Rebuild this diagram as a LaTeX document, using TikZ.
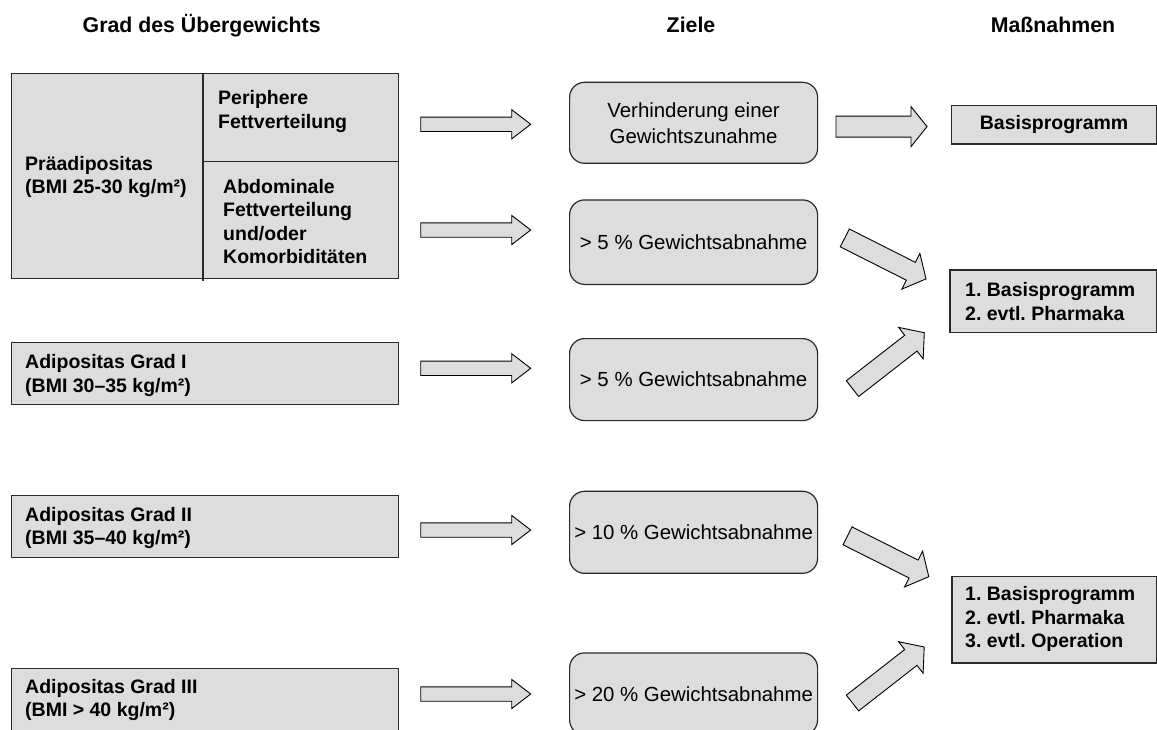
\documentclass[tikz,border=0pt]{standalone}
\usepackage{fontspec}
\setmainfont{Liberation Sans}
\frenchspacing
\definecolor{boxgray}{HTML}{DDDDDD}
\definecolor{edge}{HTML}{2A2A2A}
\newcommand{\barrow}[6]{%
  \draw[arrowshape, shift={(#1)}, rotate=#2]
    (0,-#4) -- (#3-#6,-#4) -- (#3-#6,-#5) -- (#3,0) -- (#3-#6,#5) -- (#3-#6,#4) -- (0,#4) -- cycle;}
\begin{document}
\begin{tikzpicture}[x=1pt,y=1pt,
  box/.style={draw=edge, line width=1.2pt, fill=boxgray, inner sep=0pt, anchor=north west},
  rbox/.style={draw=edge, line width=1.2pt, fill=boxgray, rounded corners=15pt, inner sep=0pt,
     anchor=north west, align=center, font=\fontsize{20.4}{26}\selectfont},
  btxt/.style={inner sep=0pt, anchor=west, align=left, font=\fontsize{19.5}{23.5}\selectfont\bfseries},
  head/.style={inner sep=0pt, anchor=base, font=\fontsize{21.3}{25}\selectfont\bfseries},
  arrowshape/.style={draw=black, line width=0.9pt, fill=boxgray, line join=miter}]
\clip (0,0) rectangle (1157,-729);
\fill[white] (0,0) rectangle (1157,-729);

% headers
\node[head] (h1) at (201.7,-32.3) {Grad des Übergewichts};
\node[head] (h2) at (691,-32.3) {Ziele};
\node[head] (h3) at (1053,-32.3) {Maßnahmen};

% left column
\node[box, minimum width=387, minimum height=205] (pre) at (11,-73) {};
\draw[edge, line width=1.2pt] (203,-73) -- (203,-281);
\draw[edge, line width=1.2pt] (203,-161.7) -- (pre.east |- 0,-161.7);
\node[btxt] (pret) at (25,-177.2) {Präadipositas\\(BMI 25-30 kg/m²)};
\node[btxt] (perit) at (218,-111.7) {Periphere\\Fettverteilung};
\node[btxt] (abdt) at (223,-221.7) {Abdominale\\Fettverteilung\\und/oder\\Komorbiditäten};

\node[box, minimum width=387, minimum height=62] (g1) at (11,-342) {};
\node[btxt] (g1t) at (25,-375.3) {Adipositas Grad I\\(BMI 30–35 kg/m²)};
\node[box, minimum width=387, minimum height=62] (g2) at (11,-495) {};
\node[btxt] (g2t) at (25,-528) {Adipositas Grad II\\(BMI 35–40 kg/m²)};
\node[box, minimum width=387, minimum height=90] (g3) at (11,-668) {};
\node[btxt] (g3t) at (25,-700) {Adipositas Grad III\\(BMI > 40 kg/m²)};

% middle column
\node[rbox, minimum width=248, minimum height=81] (z1) at (569,-81.7) {Verhinderung einer\\Gewichtszunahme};
\node[rbox, minimum width=248, minimum height=84.5] (z2) at (569,-199.3) {> 5 \% Gewichtsabnahme};
\node[rbox, minimum width=248, minimum height=82] (z3) at (569,-338) {> 5 \% Gewichtsabnahme};
\node[rbox, minimum width=248, minimum height=82] (z4) at (569,-490.7) {> 10 \% Gewichtsabnahme};
\node[rbox, minimum width=248, minimum height=82] (z5) at (569,-652.3) {> 20 \% Gewichtsabnahme};

% right column
\node[box, minimum width=205, minimum height=38.3, font=\fontsize{19.5}{23.5}\selectfont\bfseries] (m1) at (951,-105) {Basisprogramm};
\node[box, minimum width=207, minimum height=62.4] (m2) at (949.3,-269.3) {};
\node[btxt] (m2t) at (965,-301.7) {1. Basisprogramm\\2. evtl. Pharmaka};
\node[box, minimum width=205, minimum height=86.6] (m3) at (951.3,-575.7) {};
\node[btxt] (m3t) at (965,-619.3) {1. Basisprogramm\\2. evtl. Pharmaka\\3. evtl. Operation};

% block arrows
\coordinate (a1) at (420.7,-124.3);
\coordinate (a2) at (420.7,-230);
\coordinate (a3) at (420.7,-368.3);
\coordinate (a4) at (420.7,-530);
\coordinate (a5) at (420.7,-694);
\barrow{a1}{0}{110}{7.2}{14.6}{19}
\barrow{a2}{0}{110}{7.2}{14.6}{19}
\barrow{a3}{0}{110}{7.2}{14.6}{19}
\barrow{a4}{0}{110}{7.2}{14.6}{19}
\barrow{a5}{0}{110}{7.2}{14.6}{19}

\coordinate (b1) at (836,-126.6);
\barrow{b1}{0}{91}{10.5}{20}{16}
\coordinate (d1) at (844.8,-237.9);
\barrow{d1}{-26.8}{91}{10}{20}{17}
\coordinate (d2) at (852.5,-388.6);
\barrow{d2}{37.9}{91}{10}{20}{17}
\coordinate (d3) at (847.5,-535.8);
\barrow{d3}{-26.7}{91}{10}{20}{17}
\coordinate (d4) at (852.5,-703);
\barrow{d4}{38}{91}{10}{20}{17}
\end{tikzpicture}
\end{document}
